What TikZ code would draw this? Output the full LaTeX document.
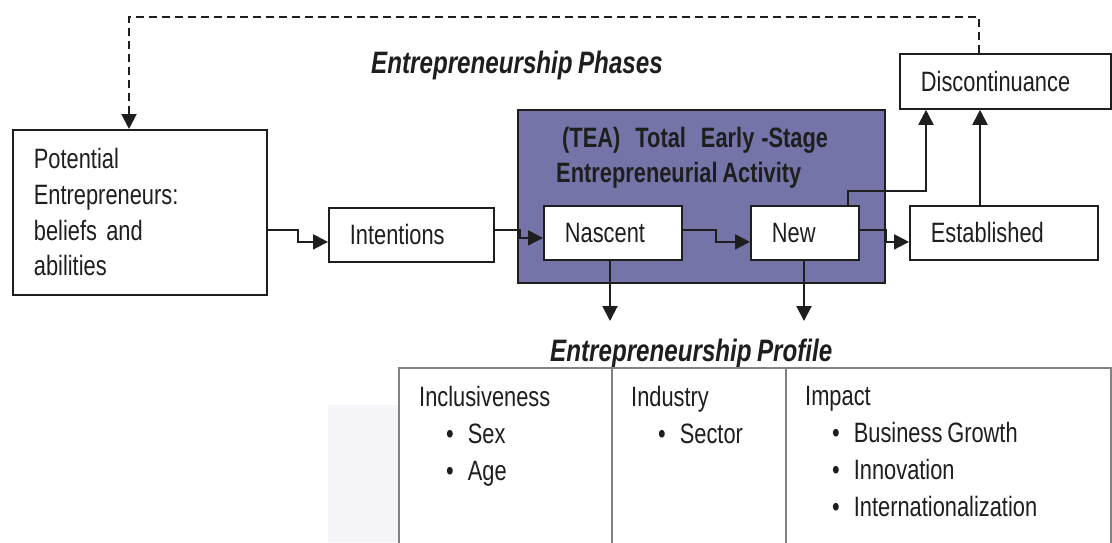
\documentclass[tikz,border=0pt]{standalone}
\usepackage{fontspec}
\setmainfont[FakeStretch=0.78,WordSpace=0.8]{Liberation Sans}
\usetikzlibrary{arrows.meta}
\definecolor{tea}{RGB}{116,116,168}
\definecolor{ink}{RGB}{30,30,30}
\definecolor{tabgray}{RGB}{130,130,130}
\definecolor{faint}{RGB}{245,245,249}
\begin{document}
\begin{tikzpicture}[x=1pt,y=-1pt,
  box/.style={draw=ink, line width=1.8pt, fill=white, anchor=north west,
    inner xsep=21pt, inner ysep=0pt, align=left, text=ink,
    font=\fontsize{28}{35.7}\selectfont},
  teabox/.style={draw=ink, line width=1.8pt, fill=tea, anchor=north west, inner sep=0pt},
  cell/.style={draw=tabgray, line width=2pt, fill=white, anchor=north west, inner sep=0pt},
  celltext/.style={anchor=north west, inner sep=0pt, align=left, text=ink,
    font=\fontsize{28}{37}\selectfont},
  title/.style={anchor=base west, inner sep=0pt, text=ink,
    font=\fontsize{31}{36}\selectfont\bfseries\itshape},
  teatext/.style={anchor=base west, inner sep=0pt, text=ink,
    font=\fontsize{28}{35}\selectfont\bfseries},
  conn/.style={draw=ink, line width=2pt, -{Triangle[length=15pt,width=15pt]}},
  feedback/.style={draw=ink, line width=2pt, dash pattern=on 8pt off 5pt,
    -{Triangle[length=15pt,width=15pt]}}]
\useasboundingbox (0,0) rectangle (1112,542);
\fill[faint] (328,405) rectangle (398,542);

% boxes
\node[box, text width=212pt, minimum height=165pt] (pot) at (12,129)
  {Potential\\Entrepreneurs:\\beliefs and\\abilities};
\node[box, text width=123pt, minimum height=54pt] (int) at (328,207) {Intentions};
\node[teabox, minimum width=367pt, minimum height=173pt] (tea) at (517,109) {};
\node[teatext] (tea1) at (556,147) {\hspace*{6pt}(TEA)\hspace{15pt}Total\hspace{15pt}Early\hspace{7pt}-Stage};
\node[teatext] (tea2) at (556,182) {Entrepreneurial Activity};
\node[box, text width=96pt, minimum height=54pt] (nasc) at (543,205) {Nascent};
\node[box, text width=66pt, minimum height=54pt] (new) at (750,205) {New};
\node[box, text width=146pt, minimum height=54pt] (est) at (909,205) {Established};
\node[box, text width=169pt, minimum height=55pt] (disc) at (899,53) {Discontinuance};

% titles
\node[title] (phases) at (371,73) {Entrepreneurship Phases};
\node[title] (profile) at (550,361) {Entrepreneurship Profile};

% profile table
\node[cell, minimum width=213pt, minimum height=185pt] (c1) at (398,367) {};
\node[cell, minimum width=174pt, minimum height=185pt] (c2) at (611,367) {};
\node[cell, minimum width=325pt, minimum height=185pt] (c3) at (785,367) {};
\node[celltext] (t1) at (419,386)
  {Inclusiveness\\\hspace*{27pt}\textbullet\hspace{14pt}Sex\\\hspace*{27pt}\textbullet\hspace{14pt}Age};
\node[celltext] (t2) at (631,386)
  {Industry\\\hspace*{27pt}\textbullet\hspace{14pt}Sector};
\node[celltext] (t3) at (805,386)
  {Impact\\\hspace*{27pt}\textbullet\hspace{14pt}Business Growth\\\hspace*{27pt}\textbullet\hspace{14pt}Innovation\\\hspace*{27pt}\textbullet\hspace{14pt}Internationalization};

% connectors
\draw[conn] ([yshift=-17.5pt]pot.east) -- ++(30,0) |- ([yshift=-7pt]int.west);
\draw[conn] ([yshift=5pt]int.east) -- ++(25,0) |- ([yshift=-5pt]nasc.west);
\draw[conn] ([yshift=3pt]nasc.east) -- ++(33,0) |- ([yshift=-9pt]new.west);
\draw[conn] ([yshift=3pt]new.east) -- ++(26,0) |- ([yshift=-9pt]est.west);
\draw[conn] ([xshift=-12pt]new.north east) -- ++(0,-14) -| ([xshift=27pt]disc.south west);
\draw[conn] ([xshift=71pt]est.north west) -- ([xshift=81pt]disc.south west);
\coordinate (pa) at (610,321);
\coordinate (pb) at (804,321);
\draw[conn] (nasc.south -| pa) -- (pa);
\draw[conn] (new.south -| pb) -- (pb);
\coordinate (dtop) at (129,17);
\draw[feedback] ([xshift=80pt]disc.north west) |- (dtop) -- (pot.north -| dtop);
\end{tikzpicture}
\end{document}
